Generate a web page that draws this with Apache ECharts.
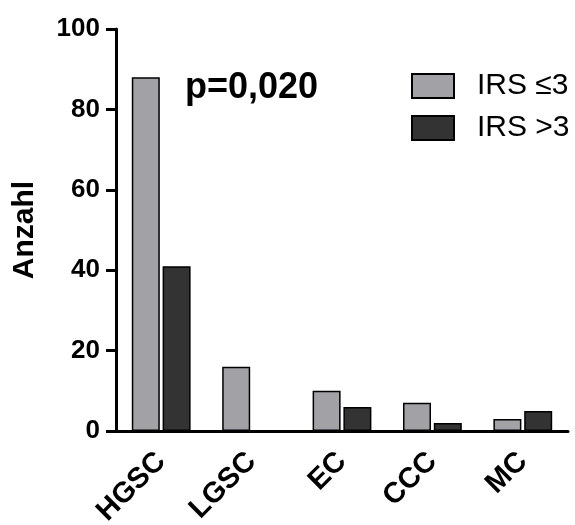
<!DOCTYPE html>
<html>
<head>
<meta charset="utf-8">
<script src="https://cdn.jsdelivr.net/npm/echarts@6/dist/echarts.min.js"></script>
<style>
  html, body { margin: 0; padding: 0; background: #fff; }
  #chart { width: 575px; height: 525px; }
</style>
</head>
<body>
<div id="chart"></div>
<script>
// Histological subtypes and counts per IRS group
const categories = ['HGSC', 'LGSC', 'EC', 'CCC', 'MC'];
const irsLow = [88, 16, 10, 7, 3];   // IRS ≤3
const irsHigh = [41, 0, 6, 2, 5];    // IRS >3
const yTicks = { min: 0, max: 100, interval: 20 };
const seriesNames = ['IRS \u22643', 'IRS >3'];
const pValueText = 'p=0,020';

const FONT = '"Liberation Sans", Arial, sans-serif';

const chart = echarts.init(document.getElementById('chart'), null, { renderer: 'canvas' });

chart.setOption({
  animation: false,
  backgroundColor: '#ffffff',
  grid: {
    left: 116, right: 7, top: 29, bottom: 94,
    containLabel: false, outerBoundsMode: 'none'
  },
  legend: {
    orient: 'vertical',
    left: 411,
    top: 71,
    padding: 0,
    itemWidth: 42,
    itemHeight: 24,
    itemGap: 12,
    icon: 'rect',
    selectedMode: false,
    textStyle: {
      fontFamily: FONT, fontSize: 30, lineHeight: 24, color: '#000',
      padding: [0, 0, 0, 18]
    },
    data: seriesNames
  },
  graphic: [{
    type: 'text',
    left: 185,
    top: 70,
    style: { text: pValueText, font: 'bold 36px ' + FONT, fill: '#000' }
  }],
  xAxis: {
    type: 'category',
    data: categories,
    axisLine: { lineStyle: { color: '#000', width: 3 } },
    axisTick: { alignWithLabel: true, length: 11, lineStyle: { color: '#000', width: 3 } },
    axisLabel: {
      rotate: 45, margin: 26, color: '#000',
      fontFamily: FONT, fontWeight: 'bold', fontSize: 29
    }
  },
  yAxis: {
    type: 'value',
    min: yTicks.min, max: yTicks.max, interval: yTicks.interval,
    name: 'Anzahl',
    nameLocation: 'middle',
    nameGap: 76,
    nameTextStyle: { fontFamily: FONT, fontWeight: 'bold', fontSize: 30, color: '#000' },
    splitLine: { show: false },
    axisLine: { show: true, lineStyle: { color: '#000', width: 3 } },
    axisTick: { show: true, length: 10, lineStyle: { color: '#000', width: 3 } },
    axisLabel: { margin: 16, color: '#000', fontFamily: FONT, fontWeight: 'bold', fontSize: 26 }
  },
  series: [
    {
      name: seriesNames[0], type: 'bar', data: irsLow,
      barWidth: 28, barGap: '10%',
      itemStyle: { color: '#a2a2a6', borderColor: '#000', borderWidth: 1.5 }
    },
    {
      name: seriesNames[1], type: 'bar', data: irsHigh,
      barWidth: 28, barGap: '10%',
      itemStyle: { color: '#333333', borderColor: '#000', borderWidth: 1.5 }
    }
  ]
});
</script>
</body>
</html>
